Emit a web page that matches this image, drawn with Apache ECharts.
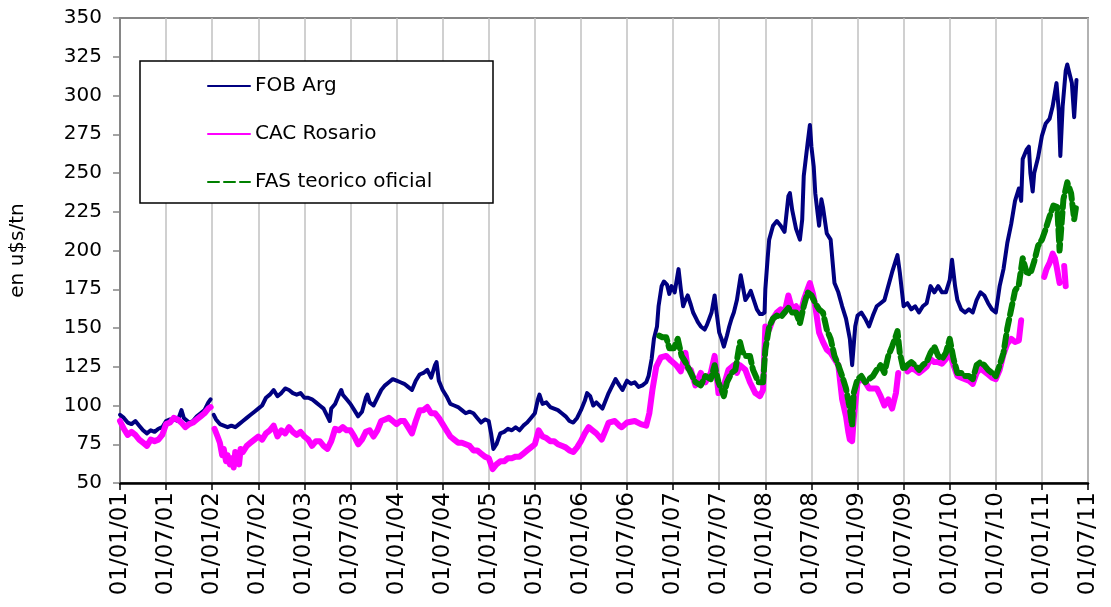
<!DOCTYPE html>
<html>
<head>
<meta charset="utf-8">
<script src="https://cdn.jsdelivr.net/npm/echarts@6/dist/echarts.min.js"></script>
<style>
  html, body { margin: 0; padding: 0; background: #fff; }
  #chart { width: 1111px; height: 607px; }
</style>
</head>
<body>
<div id="chart"></div>
<script>
  // x = months since 01/01/01, y = u$s/tn ; null breaks the line
  var fobArg = [
    [0,94],[0.5,92],[1,89],[1.5,88],[2,90],[2.5,87],[3,84],[3.5,82],[4,84],[4.5,83],[5,85],[5.5,86],
    [6,90],[6.5,91],[7,91],[7.5,90],[8,97],[8.3,92],[8.5,91],[9,89],[9.5,90],[10,93],[10.5,95],[11,97],
    [11.5,102],[11.8,104],[12,null],
    [12.2,94],[12.5,91],[13,88],[13.5,87],[14,86],[14.5,87],[15,86],[15.5,88],[16,90],[16.5,92],[17,94],
    [17.5,96],[18,98],[18.5,100],[19,105],[19.5,107],[20,110],[20.5,106],[21,108],[21.5,111],[22,110],
    [22.5,108],[23,107],[23.5,108],[24,105],[24.5,105],[25,104],[25.5,102],[26,100],[26.5,98],[27,93],
    [27.3,90],[27.5,98],[28,101],[28.5,107],[28.8,110],[29,107],[29.5,104],[30,101],[30.5,97],[31,93],
    [31.5,96],[32,105],[32.2,107],[32.5,102],[33,100],[33.5,105],[34,110],[34.5,113],[35,115],[35.5,117],
    [36,116],[36.5,115],[37,114],[37.5,112],[38,110],[38.5,116],[39,120],[39.5,121],[40,123],[40.5,118],
    [41,126],[41.2,128],[41.5,116],[42,110],[42.5,106],[43,101],[43.5,100],[44,99],[44.5,97],[45,95],
    [45.5,96],[46,95],[46.5,92],[47,89],[47.5,91],[48,90],[48.3,82],[48.6,72],[49,75],[49.5,82],[50,83],
    [50.5,85],[51,84],[51.5,86],[52,84],[52.5,87],[53,89],[53.5,92],[54,95],[54.4,104],[54.6,107],[55,101],
    [55.5,102],[56,99],[56.5,98],[57,97],[57.5,95],[58,93],[58.5,90],[59,89],[59.5,92],[60,97],[60.5,103],
    [60.8,108],[61.2,106],[61.6,100],[62,102],[62.8,98],[63.6,108],[64,112],[64.5,117],[65,113],[65.4,110],
    [66,116],[66.5,114],[67,115],[67.5,112],[68,113],[68.5,115],[68.8,119],[69.2,130],[69.5,143],[69.9,151],
    [70.1,164],[70.5,177],[70.8,180],[71.2,178],[71.5,172],[71.8,177],[72.2,173],[72.7,188],[73,175],
    [73.3,164],[73.6,168],[73.9,171],[74.3,165],[74.6,160],[75,156],[75.2,154],[75.6,151],[76.1,149],
    [76.4,152],[76.7,156],[77,160],[77.4,171],[77.6,162],[78,147],[78.3,143],[78.6,138],[79,145],[79.3,151],
    [79.6,156],[79.9,160],[80.3,168],[80.8,184],[81.1,176],[81.4,168],[81.8,171],[82.1,174],[82.5,168],
    [82.9,162],[83.3,159],[83.6,159],[83.9,160],[84,175],[84.3,195],[84.5,207],[85,216],[85.5,219],[86,216],
    [86.5,212],[87,235],[87.2,237],[87.5,226],[88,214],[88.5,207],[88.8,220],[89,248],[89.5,269],[89.8,281],
    [90,267],[90.3,254],[90.5,237],[91,216],[91.3,233],[91.5,228],[92,211],[92.5,207],[93,179],[93.5,173],
    [94,164],[94.5,156],[95,143],[95.3,126],[95.7,151],[96,158],[96.5,160],[97,156],[97.5,151],[98,158],
    [98.5,164],[99,166],[99.5,168],[100,177],[100.5,186],[101,194],[101.2,197],[101.5,186],[102,164],
    [102.5,166],[103,162],[103.5,164],[104,160],[104.5,164],[105,166],[105.5,177],[106,173],[106.5,177],
    [107,173],[107.5,173],[108,181],[108.3,194],[108.7,177],[109,168],[109.5,162],[110,160],[110.5,162],
    [111,160],[111.5,168],[112,173],[112.5,171],[113,166],[113.5,162],[114,160],[114.5,177],[115,188],
    [115.5,205],[116,217],[116.5,232],[117,240],[117.3,232],[117.5,259],[118,265],[118.3,267],[118.5,250],
    [118.8,238],[119,250],[119.5,260],[120,274],[120.5,282],[121,285],[121.4,293],[121.9,308],[122.2,290],
    [122.4,261],[122.7,293],[123.1,316],[123.3,320],[123.6,314],[123.9,308],[124.2,286],[124.5,310]
  ];

  var cacRosario = [
    [0,90],[0.5,85],[1,81],[1.5,83],[2,81],[2.5,78],[3,76],[3.5,74],[4,78],[4.5,77],[5,78],[5.5,81],
    [6,88],[6.5,89],[7,92],[7.5,91],[8,89],[8.5,86],[9,88],[9.5,89],[10,91],[10.5,93],[11,95],[11.5,98],
    [11.8,99],[12,null],
    [12.3,85],[12.7,80],[13,76],[13.3,68],[13.5,72],[13.8,64],[14,68],[14.3,62],[14.5,66],[14.8,60],
    [15,70],[15.3,66],[15.5,62],[15.7,72],[16,70],[16.5,74],[17,76],[17.5,78],[18,80],[18.5,78],[19,82],
    [19.5,84],[20,87],[20.5,80],[21,84],[21.5,82],[22,86],[22.5,83],[23,81],[23.5,83],[24,80],[24.5,78],
    [25,74],[25.5,77],[26,77],[26.5,74],[27,72],[27.5,77],[28,85],[28.5,84],[29,86],[29.5,84],[30,84],
    [30.5,80],[31,75],[31.5,78],[32,83],[32.5,84],[33,80],[33.5,84],[34,90],[34.5,91],[35,92],[35.5,90],
    [36,88],[36.5,90],[37,90],[37.5,86],[38,82],[38.5,90],[39,97],[39.5,97],[40,99],[40.5,95],[41,95],
    [41.5,92],[42,88],[42.5,84],[43,80],[43.5,78],[44,76],[44.5,76],[45,75],[45.5,74],[46,71],[46.5,71],
    [47,69],[47.5,67],[48,66],[48.5,59],[49,62],[49.5,64],[50,64],[50.5,66],[51,66],[51.5,67],[52,67],
    [52.5,69],[53,71],[53.5,73],[54,75],[54.5,84],[55,80],[55.5,79],[56,77],[56.5,77],[57,75],[57.5,74],
    [58,73],[58.5,71],[59,70],[59.5,73],[60,77],[60.5,82],[61,86],[61.5,84],[62,82],[62.7,78],[63.2,84],
    [63.6,89],[64.4,90],[65,87],[65.3,86],[66,89],[67,90],[67.8,88],[68.5,87],[68.9,95],[69.3,110],
    [69.8,125],[70.4,131],[71.1,132],[71.7,129],[72.4,126],[73,122],[73.6,134],[73.9,124],[74.3,123],
    [74.9,113],[75.6,121],[76.2,115],[76.9,121],[77.4,132],[77.9,108],[78.6,113],[79.2,123],[79.9,126],
    [80.3,121],[80.7,126],[81.4,123],[82,115],[82.7,108],[83.3,106],[83.7,110],[84,151],[84.5,149],
    [85,156],[85.5,160],[86,162],[86.5,160],[87,171],[87.5,162],[88,164],[88.5,158],[89,168],[89.5,175],
    [89.8,179],[90.2,172],[90.5,164],[91,147],[91.5,141],[92,136],[92.5,134],[93,130],[93.5,126],[94,104],
    [94.5,93],[94.8,83],[95,78],[95.3,77],[95.5,91],[96,115],[96.5,117],[97,115],[97.5,111],[98,111],
    [98.5,111],[99,106],[99.5,100],[100,104],[100.5,98],[101,108],[101.3,121],[101.8,null],
    [102.5,122],[103,124],[103.5,123],[104,121],[104.5,123],[105,125],[105.5,130],[106,128],[106.5,128],
    [107,127],[107.5,130],[108,134],[108.5,126],[109,119],[109.5,118],[110,117],[110.5,116],[111,114],
    [111.5,121],[112,124],[112.5,122],[113,120],[113.5,118],[114,117],[114.5,123],[115,133],[115.5,140],
    [116,143],[116.5,141],[117,142],[117.3,155],[118,null],
    [120.3,183],[120.6,188],[121,192],[121.4,198],[121.7,195],[121.9,190],[122.3,179],[122.6,null],
    [122.9,190],[123.1,177]
  ];

  var fasTeorico = [
    [70.2,145],[70.6,144],[71.1,144],[71.5,137],[72.1,137],[72.6,143],[73.1,132],[73.6,128],[74.3,121],
    [74.9,115],[75.6,113],[76.2,119],[76.9,117],[77.4,126],[77.9,115],[78.3,110],[78.6,106],[79,115],
    [79.6,121],[80.1,123],[80.7,141],[81,135],[81.4,132],[82,132],[82.4,123],[83.1,115],[83.7,115],
    [84,136],[84.5,151],[85,156],[85.5,158],[86,157],[86.5,160],[87,163],[87.5,160],[88,160],[88.5,153],
    [89,164],[89.5,173],[90,171],[90.5,166],[91,162],[91.5,160],[92,149],[92.5,143],[93,132],[93.5,126],
    [94,119],[94.5,111],[95,98],[95.3,87],[95.5,108],[96,117],[96.5,119],[97,115],[97.5,117],[98,119],
    [98.5,123],[99,126],[99.5,121],[100,132],[100.5,138],[101,145],[101.2,148],[101.5,134],[102,123],
    [102.5,126],[103,128],[103.5,126],[104,123],[104.5,126],[105,128],[105.5,134],[106,138],[106.5,132],
    [107,130],[107.5,134],[108,143],[108.5,130],[109,121],[109.5,121],[110,119],[110.5,119],[111,117],
    [111.5,126],[112,128],[112.5,126],[113,123],[113.5,121],[114,119],[114.5,126],[115,134],[115.5,150],
    [116,162],[116.5,174],[117,178],[117.5,195],[118,186],[118.5,185],[119,193],[119.5,203],[120,207],
    [120.5,214],[121,222],[121.5,229],[122,228],[122.3,200],[122.8,233],[123.3,244],[123.8,237],
    [124.2,220],[124.5,230]
  ];

  var seriesNames = ['FOB Arg', 'CAC Rosario', 'FAS teorico oficial'];
  var seriesColors = ['#000080', '#ff00ff', '#008000'];

  function pad(n) { return (n < 10 ? '0' : '') + n; }
  function monthLabel(m) {
    var year = 2001 + Math.floor(m / 12);
    return '01/' + pad(m % 12 + 1) + '/' + pad(year % 100);
  }

  var font = 'DejaVu Sans';
  var chart = echarts.init(document.getElementById('chart'), null, { renderer: 'canvas' });

  chart.setOption({
    animation: false,
    backgroundColor: '#fff',
    textStyle: { fontFamily: font, color: '#000' },
    grid: {
      left: 119, right: 23, top: 18, bottom: 124,
      show: true, borderColor: '#868686', borderWidth: 2
    },
    graphic: [{
      type: 'rect',
      z: 3,
      shape: { x: 140, y: 61, width: 353, height: 142 },
      style: { fill: '#fff', stroke: '#000', lineWidth: 1.5 }
    }],
    legend: {
      z: 5,
      orient: 'vertical',
      left: 202,
      top: 71,
      itemWidth: 42,
      itemHeight: 14,
      itemGap: 28,
      itemStyle: { opacity: 0 },
      textStyle: { fontFamily: font, fontSize: 20, lineHeight: 20, color: '#000' },
      data: seriesNames
    },
    xAxis: {
      type: 'value',
      min: 0,
      max: 126,
      interval: 6,
      axisLine: { lineStyle: { color: '#000', width: 2.5 } },
      axisTick: { show: true, length: 7, lineStyle: { color: '#000', width: 1.5 } },
      axisLabel: {
        rotate: 90,
        margin: 9,
        fontSize: 23,
        fontFamily: font,
        color: '#000',
        formatter: monthLabel
      },
      splitLine: { show: true, lineStyle: { color: '#c0c0c0', width: 1.5 } }
    },
    yAxis: {
      type: 'value',
      min: 50,
      max: 350,
      interval: 25,
      name: 'en u$s/tn',
      nameLocation: 'middle',
      nameGap: 92,
      nameRotate: 90,
      nameTextStyle: { fontFamily: font, fontSize: 20, color: '#000' },
      axisLine: { show: true, lineStyle: { color: '#868686', width: 2 } },
      axisTick: { show: true, length: 7, lineStyle: { color: '#868686', width: 1.5 } },
      axisLabel: { margin: 18, fontSize: 20, fontFamily: font, color: '#000' },
      splitLine: { show: false }
    },
    series: [
      {
        name: seriesNames[0],
        type: 'line',
        data: fobArg,
        showSymbol: false,
        symbol: 'none',
        color: seriesColors[0],
        lineStyle: { color: seriesColors[0], width: 4, join: 'round', cap: 'round' }
      },
      {
        name: seriesNames[1],
        type: 'line',
        data: cacRosario,
        showSymbol: false,
        symbol: 'none',
        color: seriesColors[1],
        lineStyle: { color: seriesColors[1], width: 6, join: 'round', cap: 'round' }
      },
      {
        name: seriesNames[2],
        type: 'line',
        data: fasTeorico,
        showSymbol: false,
        symbol: 'none',
        color: seriesColors[2],
        lineStyle: { color: seriesColors[2], width: 6, type: [11, 5], join: 'round', cap: 'round' }
      }
    ]
  });
</script>
</body>
</html>
